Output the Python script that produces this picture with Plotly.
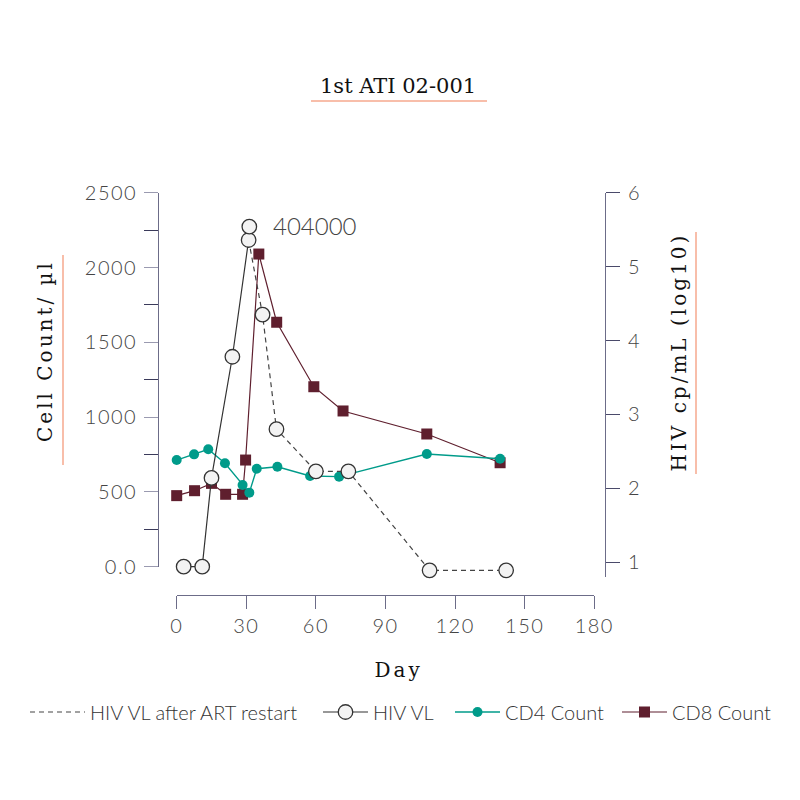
import plotly.graph_objects as go

# ---------------- data ----------------
vl_days = [3, 11, 15, 24, 31]
vl_log = [0.94, 0.94, 2.14, 3.78, 5.36]

vl_peak_day = [31.3]
vl_peak_log = [5.54]
vl_peak_label = "404000"

art_days = [31, 37, 43, 60, 74, 109, 142]
art_log = [5.36, 4.35, 2.80, 2.23, 2.23, 0.89, 0.89]

cd4_days = [0, 7.5, 13.6, 20.8, 28.4, 31.3, 34.5, 43.4, 57.5, 70, 107.8, 139.4]
cd4_vals = [713, 751, 785, 691, 546, 495, 655, 668, 606, 602, 753, 722]

cd8_days = [0, 7.7, 15, 21.1, 28.4, 29.7, 35.4, 43.1, 59.1, 71.7, 107.8, 139.4]
cd8_vals = [475, 508, 557, 484, 484, 713, 2090, 1634, 1203, 1041, 887, 695]

x_ticks = [0, 30, 60, 90, 120, 150, 180]
y_ticks = [0, 500, 1000, 1500, 2000, 2500]
y_ticktext = ["0.0", "500", "1000", "1500", "2000", "2500"]
y2_ticks = [1, 2, 3, 4, 5, 6]

# ---------------- styling ----------------
W = H = 800
TEAL = "#009b8a"
MAROON = "#5f1f2e"
VL_LINE = "#333333"
VL_FILL = "#f3f3f3"
AXIS = "#6c6c88"
ACCENT = "#f6a88e"
SANS = "Lato"
TICKFONT = dict(family=SANS, size=20, color="#444444", weight=300)
SERIF = "DejaVu Serif"


def px(x):
    return x / W


def py(y):
    return 1 - y / H


fig = go.Figure()

fig.add_trace(go.Scatter(
    x=cd8_days, y=cd8_vals, mode="lines+markers", name="CD8 Count",
    line=dict(color=MAROON, width=1.2),
    marker=dict(symbol="square", size=11, color=MAROON),
    xaxis="x", yaxis="y", cliponaxis=False, legend="legend4"))

fig.add_trace(go.Scatter(
    x=art_days, y=art_log, mode="lines", name="HIV VL after ART restart",
    line=dict(color="#444444", width=1.2, dash="5px,4px"),
    xaxis="x", yaxis="y2", cliponaxis=False, legend="legend"))

fig.add_trace(go.Scatter(
    x=vl_days, y=vl_log, mode="lines+markers", name="HIV VL",
    line=dict(color=VL_LINE, width=1.2),
    marker=dict(symbol="circle", size=14.5, color=VL_FILL,
                line=dict(color=VL_LINE, width=1.3)),
    xaxis="x", yaxis="y2", cliponaxis=False, legend="legend2"))

fig.add_trace(go.Scatter(
    x=art_days[1:] + vl_peak_day, y=art_log[1:] + vl_peak_log, mode="markers",
    showlegend=False,
    marker=dict(symbol="circle", size=14.5, color=VL_FILL,
                line=dict(color=VL_LINE, width=1.3)),
    xaxis="x", yaxis="y2", cliponaxis=False))

fig.add_trace(go.Scatter(
    x=cd4_days, y=cd4_vals, mode="lines+markers", name="CD4 Count",
    line=dict(color=TEAL, width=1.4),
    marker=dict(symbol="circle", size=10, color=TEAL),
    xaxis="x", yaxis="y", cliponaxis=False, legend="legend3"))

fig.add_annotation(x=vl_peak_day[0], y=vl_peak_log[0], xref="x", yref="y2",
                   text=vl_peak_label, showarrow=False, xanchor="left", yanchor="middle",
                   xshift=22, yshift=1,
                   font=dict(family=SANS, size=24, color="#444444", weight=300))

# titles
title_font = dict(family=SERIF, size=20, color="#111111")
fig.add_annotation(x=px(398), y=py(86), xref="paper", yref="paper",
                   text="1st ATI 02-001", showarrow=False, xanchor="center", yanchor="middle",
                   font=dict(family=SERIF, size=21, color="#111111"))
fig.add_annotation(x=px(45), y=py(351), xref="paper", yref="paper",
                   text="Cell Count/ µl", showarrow=False, textangle=-90,
                   xanchor="center", yanchor="middle", font=title_font)
fig.add_annotation(x=px(679), y=py(352), xref="paper", yref="paper",
                   text="HIV cp/mL (log10)", showarrow=False, textangle=-90,
                   xanchor="center", yanchor="middle", font=title_font)
fig.add_annotation(x=px(399), y=py(670), xref="paper", yref="paper",
                   text="Day", showarrow=False, xanchor="center", yanchor="middle",
                   font=title_font)

# accent lines
for x0, y0, x1, y1 in [(311, 101, 487, 101), (63, 255, 63, 465), (696, 232, 696, 474)]:
    fig.add_shape(type="line", xref="paper", yref="paper",
                  x0=px(x0), y0=py(y0), x1=px(x1), y1=py(y1),
                  line=dict(color=ACCENT, width=1.5))

y_top = 192.7
y_bot = 566.7
y2_bot = 577.3
ppu2 = (488.3 - 192.7) / 4.0
y2_min = 6 - (y2_bot - y_top) / ppu2

leg_font = dict(family=SANS, size=20, color="#333333", weight=300)


def leg(x0, iw):
    return dict(orientation="h", x=px(x0), y=py(712), xanchor="left", yanchor="middle",
                font=leg_font, itemwidth=iw, bgcolor="rgba(0,0,0,0)")


fig.update_layout(
    width=W, height=H, margin=dict(l=0, r=0, t=0, b=0, autoexpand=False),
    paper_bgcolor="white", plot_bgcolor="rgba(0,0,0,0)",
    showlegend=True,
    legend=leg(25, 55), legend2=leg(318, 45),
    legend3=leg(450, 45), legend4=leg(617, 45),
    xaxis=dict(domain=[px(176.7), px(594.3)], range=[0, 180], anchor="free",
               position=py(595), tickvals=x_ticks, ticks="outside", ticklen=13,
               tickcolor=AXIS, showline=True, linecolor=AXIS, linewidth=1.2,
               showgrid=False, zeroline=False, tickfont=TICKFONT, automargin=False),
    yaxis=dict(domain=[py(y_bot), py(y_top)], range=[0, 2500], anchor="free",
               position=px(158.3), tickvals=y_ticks, ticktext=y_ticktext,
               ticks="outside", ticklen=14, tickcolor="#9a9ab0",
               minor=dict(dtick=250, tick0=0, ticks="outside", ticklen=14, tickcolor="#3a3a5a"),
               showline=True, linecolor=AXIS, linewidth=1.2, showgrid=False,
               zeroline=False, tickfont=TICKFONT, ticklabelstandoff=3, automargin=False),
    yaxis2=dict(domain=[py(y2_bot), py(y_top)], range=[y2_min, 6], anchor="free",
                position=px(605), side="right", tickvals=y2_ticks, ticks="outside",
                ticklen=14, tickcolor="#4a4a6a", showline=True, linecolor=AXIS,
                linewidth=1.2, showgrid=False, zeroline=False, tickfont=TICKFONT,
                ticklabelstandoff=4, automargin=False),
)

post = """
var gd = document.getElementById('{plot_id}');
function spacing(){
  gd.querySelectorAll('g.annotation-text-g text').forEach(function(t){
    var s = t.textContent;
    if (s === 'Cell Count/ µl' || s === 'HIV cp/mL (log10)' || s === 'Day') {
      t.style.letterSpacing = '3px';
    }
  });
  gd.querySelectorAll('g.xtick text, g.ytick text, g.y2tick text').forEach(function(t){
    t.style.letterSpacing = '1.5px';
  });
}
spacing();
"""

fig.write_html("out.html", post_script=post)
